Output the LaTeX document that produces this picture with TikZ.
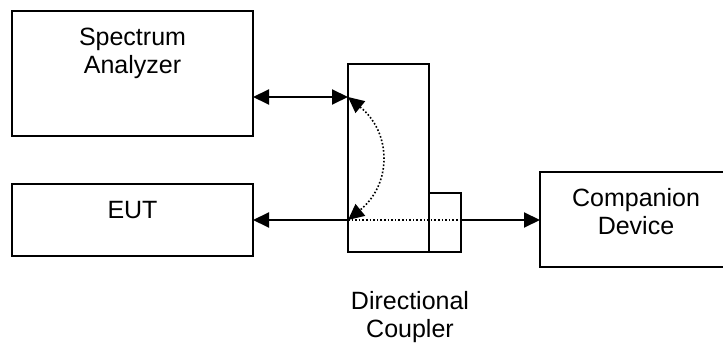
\documentclass[tikz,border=0pt]{standalone}
\usepackage{fontspec}
\setmainfont{Liberation Sans}
\usetikzlibrary{arrows.meta}
\begin{document}
\begin{tikzpicture}[x=1pt,y=-1pt,line width=2pt,
  box/.style={draw,line width=2pt,inner sep=0pt,outer sep=0pt},
  lbl/.style={font=\fontsize{25}{28}\selectfont,align=center,inner sep=0pt},
  >={Triangle[length=16pt,width=15pt]}]
\useasboundingbox (0,0) rectangle (723,344);
\clip (0,0) rectangle (723,344);
% boxes
\node[box,minimum width=241pt,minimum height=125pt] (sa) at (132.5,73.5) {};
\node[box,minimum width=241pt,minimum height=72pt] (eut) at (132.5,220) {};
\node[box,minimum width=81pt,minimum height=188pt] (cpl) at (388.5,158) {};
\node[box,minimum width=32pt,minimum height=59pt] (sm) at (445,222.5) {};
\node[box,minimum width=200pt,minimum height=95pt] (comp) at (640,219.5) {};
% labels (base = baseline of last line)
\node[lbl,anchor=base] (tsa) at (132.5,74) {Spectrum\\Analyzer};
\node[lbl,anchor=base] (teut) at (132.5,219) {EUT};
\node[lbl,anchor=base] (tcomp) at (636,235) {Companion\\Device};
\node[lbl,anchor=base] (tcpl) at (410,338) {Directional\\Coupler};
% ports
\coordinate (pA) at (cpl.west |- 0,97);
\coordinate (pB) at (cpl.west |- 0,220);
% connectors
\draw[<->] (pA -| sa.east) -- (pA);
\draw[->] (pB) -- (eut.east);
\draw[dotted,line width=1.6pt] (pB) -- (pB -| sm.east);
\draw[->] (pB -| sm.east) -- (pB -| comp.west);
\draw[dotted,line width=1.6pt,<->] (pA) .. controls (392,133) and (392,184) .. (pB);
\end{tikzpicture}
\end{document}
